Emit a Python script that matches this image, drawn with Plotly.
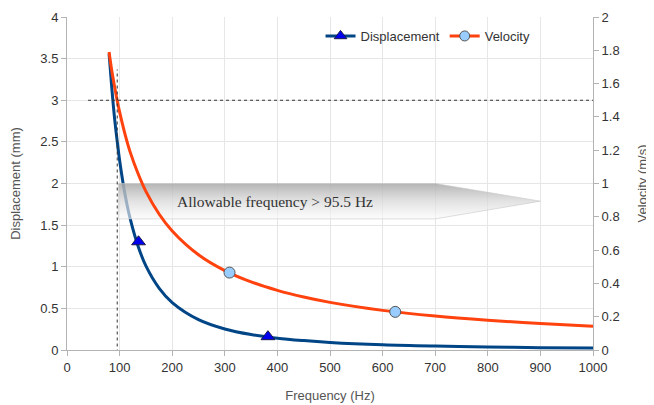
import plotly.graph_objects as go

# ---- data ----
frequency = [80, 85, 90, 95, 100, 110, 120, 135, 150, 175, 200, 250, 300, 350,
             400, 450, 500, 600, 700, 800, 900, 1000]
displacement = [3.56, 3.16, 2.81, 2.53, 2.28, 1.88, 1.58, 1.25, 1.01, 0.744, 0.570,
                0.365, 0.253, 0.186, 0.142, 0.113, 0.091, 0.063, 0.047, 0.036,
                0.028, 0.023]
velocity = [1.79, 1.68, 1.59, 1.505, 1.43, 1.30, 1.19, 1.06, 0.953, 0.817, 0.715,
            0.572, 0.477, 0.409, 0.358, 0.318, 0.286, 0.238, 0.204, 0.179, 0.159,
            0.143]

disp_marker_freq = [136, 382]
disp_marker_val = [1.3, 0.16]
vel_marker_freq = [309, 624]
vel_marker_val = [0.465, 0.229]

limit_freq = 95.5
limit_disp = 3.0
arrow_label = "Allowable frequency > 95.5 Hz"

DISP_COLOR = "#004586"
VEL_COLOR = "#ff420e"

fig = go.Figure()

# curves
fig.add_trace(go.Scatter(x=frequency, y=displacement, mode="lines",
                         line=dict(color=DISP_COLOR, width=3, shape="spline"),
                         showlegend=False, hoverinfo="skip"))
fig.add_trace(go.Scatter(x=frequency, y=velocity, mode="lines", yaxis="y2",
                         line=dict(color=VEL_COLOR, width=3, shape="spline"),
                         showlegend=False, hoverinfo="skip"))

# allowable-frequency arrow (semi-transparent gradient)
ax_left, ax_body_end, ax_tip = 98, 700, 900
ay_top, ay_bot = 2.0, 1.575
ay_mid = (ay_top + ay_bot) / 2
fig.add_trace(go.Scatter(
    x=[ax_left, ax_body_end, ax_tip, ax_body_end, ax_left, ax_left],
    y=[ay_top, ay_top, ay_mid, ay_bot, ay_bot, ay_top],
    mode="lines", fill="toself",
    line=dict(color="rgba(200,200,200,0.6)", width=1),
    fillgradient=dict(type="vertical",
                      colorscale=[[0, "rgba(250,250,250,0.6)"],
                                  [0.5, "rgba(215,215,215,0.72)"],
                                  [1, "rgba(170,170,170,0.88)"]]),
    showlegend=False, hoverinfo="skip"))

# markers
fig.add_trace(go.Scatter(x=disp_marker_freq, y=disp_marker_val, mode="markers",
                         marker=dict(symbol="triangle-up", size=12, color="#0000ee",
                                     line=dict(color="#1a1a4a", width=1)),
                         showlegend=False, hoverinfo="skip"))
fig.add_trace(go.Scatter(x=vel_marker_freq, y=vel_marker_val, mode="markers", yaxis="y2",
                         marker=dict(symbol="circle", size=11, color="#99ccff",
                                     line=dict(color="#555555", width=1)),
                         showlegend=False, hoverinfo="skip"))

# legend entries
fig.add_trace(go.Scatter(x=[None], y=[None], mode="lines+markers", name="Displacement",
                         line=dict(color=DISP_COLOR, width=3),
                         marker=dict(symbol="triangle-up", size=11, color="#0000ee",
                                     line=dict(color="#1a1a4a", width=1))))
fig.add_trace(go.Scatter(x=[None], y=[None], mode="lines+markers", name="Velocity",
                         yaxis="y2",
                         line=dict(color=VEL_COLOR, width=3),
                         marker=dict(symbol="circle", size=10, color="#99ccff",
                                     line=dict(color="#555555", width=1))))

# dotted reference lines
fig.add_shape(type="line", x0=40, x1=1000, y0=limit_disp, y1=limit_disp,
              xref="x", yref="y", line=dict(color="#333333", width=1, dash="dot"))
fig.add_shape(type="line", x0=limit_freq, x1=limit_freq, y0=-0.03, y1=3.37,
              xref="x", yref="y", line=dict(color="#333333", width=1, dash="dot"))

fig.add_annotation(x=205, y=ay_mid, xref="x", yref="y", text=arrow_label,
                   showarrow=False, xanchor="left", yanchor="middle",
                   font=dict(family="Liberation Serif", size=15.5, color="#333333"))

axis_common = dict(showline=True, linecolor="#b3b3b3", linewidth=1,
                   ticks="outside", tickcolor="#b3b3b3", ticklen=5,
                   zeroline=False, automargin=False,
                   tickfont=dict(family="Liberation Sans", size=13, color="#333333"))

# page body has an 8px margin, so the figure is sized/offset to compensate
fig.update_layout(
    width=646, height=397,
    margin=dict(l=59, r=61, t=9, b=55),
    plot_bgcolor="white", paper_bgcolor="white",
    font=dict(family="Liberation Sans", size=13, color="#333333"),
    xaxis=dict(range=[0, 1000], dtick=100, gridcolor="#e6e6e6",
               title=dict(text="Frequency (Hz)", standoff=17,
                          font=dict(size=13, color="#555555")),
               **axis_common),
    yaxis=dict(range=[0, 4], dtick=0.5, gridcolor="#e6e6e6",
               title=dict(text="Displacement (mm)", standoff=16,
                          font=dict(size=13, color="#555555")),
               **axis_common),
    yaxis2=dict(range=[0, 2], dtick=0.2, overlaying="y", side="right",
                showgrid=False,
                title=dict(text="Velocity (m/s)", standoff=19,
                           font=dict(size=13, color="#555555")),
                **axis_common),
    legend=dict(orientation="h", x=0.482, y=0.988, xanchor="left", yanchor="top",
                bgcolor="rgba(0,0,0,0)", font=dict(size=13, color="#333333"),
                itemwidth=30, tracegroupgap=0),
    showlegend=True,
)

fig.write_html("out.html")
